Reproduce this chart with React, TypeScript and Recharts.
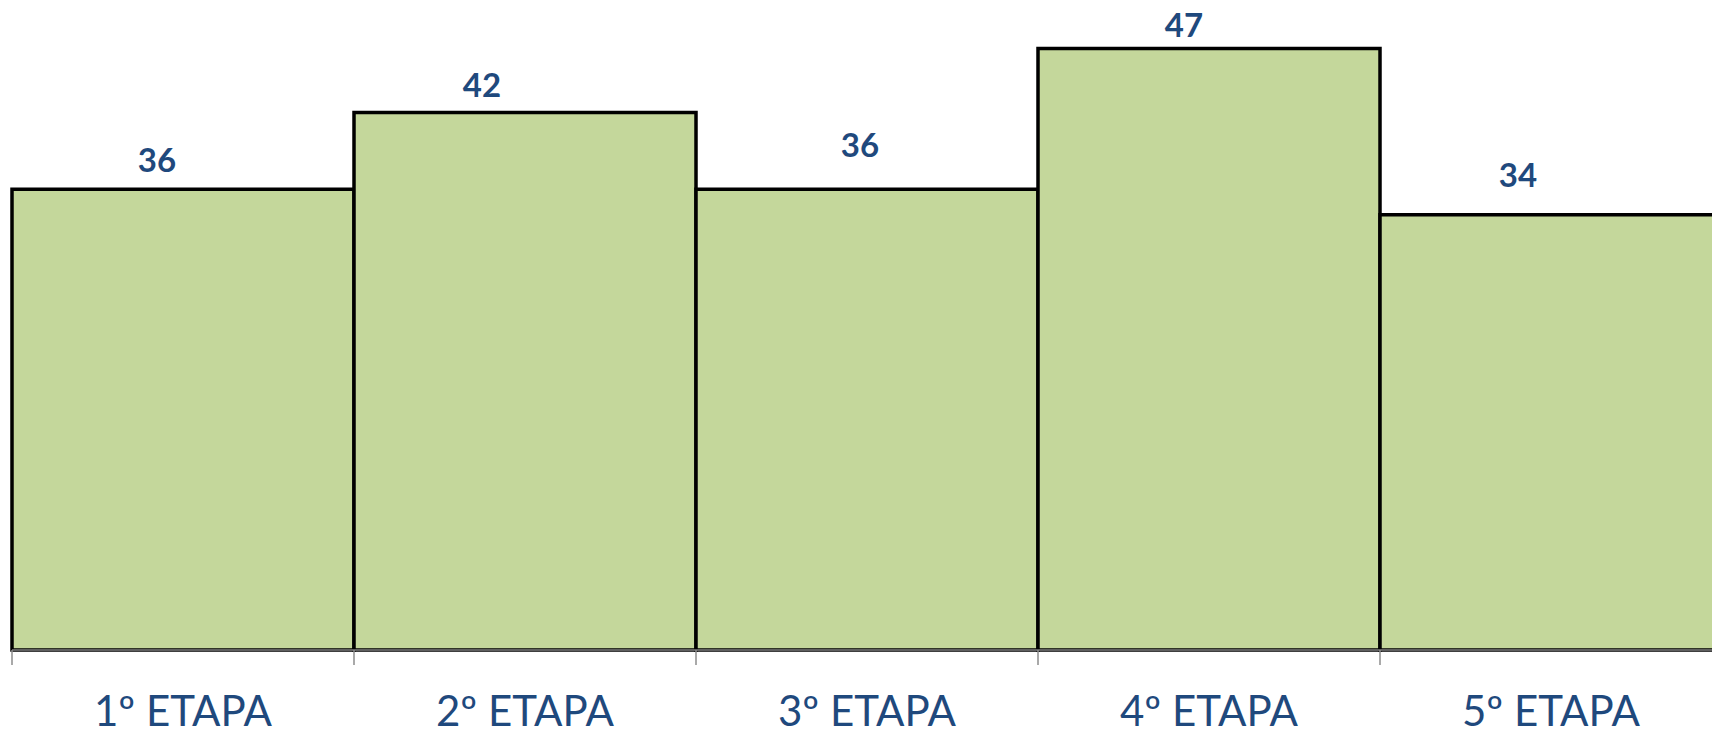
import React from "react";
import { BarChart, Bar, XAxis, YAxis, LabelList } from "recharts";

// stages and participant counts
const categories = ["1º ETAPA", "2º ETAPA", "3º ETAPA", "4º ETAPA", "5º ETAPA"];
const values = [36, 42, 36, 47, 34];
// boundaries between categories (for the Excel-style tick marks)
const edgeTicks = [0, 1, 2, 3, 4, 5];

// the data labels were nudged by hand in the original
const labelDx = [-26, -43, -7, -25, -33];
const labelGap = [17, 15, 32, 11, 28];

const data = categories.map((name, i) => ({ name, value: values[i], pos: i + 0.5 }));

const FONT = "Lato, 'Open Sans', sans-serif";
const BLUE = "#1F497D";

const NoLabel = () => <g />;

const ValueLabel = (props: any) => {
  const { x, y, width, value, index } = props;
  return (
    <text
      x={x + width / 2 + labelDx[index]}
      y={y - labelGap[index]}
      textAnchor="middle"
      fill={BLUE}
      fontSize={33}
      fontWeight="bold"
      fontFamily={FONT}
    >
      {value}
    </text>
  );
};

const App = () => {
  return (
    <div
      style={{
        position: "absolute",
        top: 0,
        left: 0,
        width: 1712,
        height: 731,
        overflow: "hidden",
        fontFamily: FONT,
      }}
    >
      <BarChart
        width={1722}
        height={731}
        data={data}
        barCategoryGap={0}
        margin={{ top: 10, right: 0, left: 12, bottom: 0 }}
      >
        <XAxis
          xAxisId="a_edges"
          type="number"
          dataKey="pos"
          domain={[0, 5]}
          ticks={edgeTicks}
          height={15}
          tickSize={15}
          tick={NoLabel}
          tickLine={{ stroke: "#8c8c8c", strokeWidth: 1.5 }}
          axisLine={{ stroke: "#7f7f7f", strokeWidth: 1.5 }}
          allowDataOverflow
        />
        <XAxis
          xAxisId="b_cats"
          dataKey="name"
          height={66}
          tickSize={0}
          tickMargin={31}
          tickLine={false}
          axisLine={false}
          interval={0}
          tick={{ fill: BLUE, fontSize: 42, fontFamily: FONT }}
        />
        <YAxis hide domain={[0, 50]} />
        <Bar
          xAxisId="b_cats"
          dataKey="value"
          fill="#C4D79B"
          stroke="#000000"
          strokeWidth={3.5}
          isAnimationActive={false}
        >
          <LabelList dataKey="value" content={ValueLabel} />
        </Bar>
      </BarChart>
    </div>
  );
};

export default App;
